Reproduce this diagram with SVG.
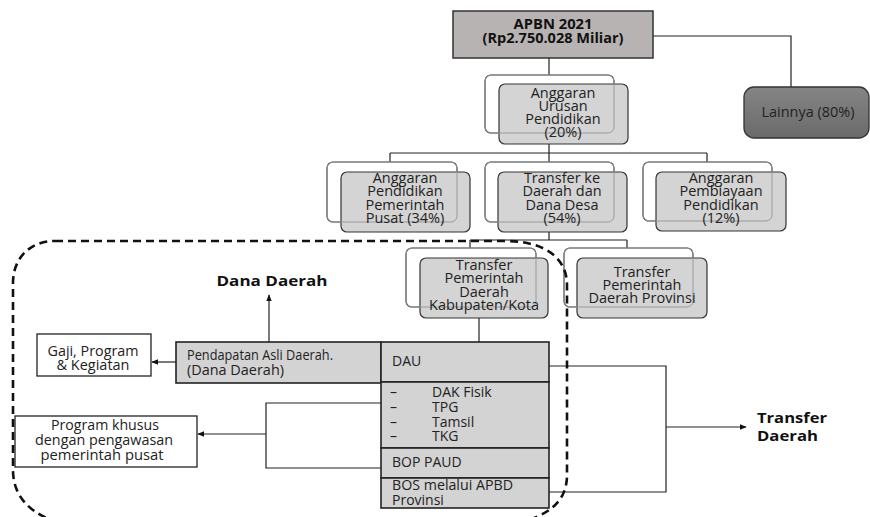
<svg xmlns="http://www.w3.org/2000/svg" width="870" height="517" viewBox="0 0 870 517">
<defs>
<marker id="ah" viewBox="0 0 10 10" refX="9" refY="5" markerWidth="7" markerHeight="7" orient="auto-start-reverse" markerUnits="userSpaceOnUse">
<path d="M0,1 L10,5 L0,9 Z" fill="#111"/>
</marker>
<linearGradient id="gl" x1="0" y1="0" x2="0" y2="1">
<stop offset="0" stop-color="#858585"/>
<stop offset="1" stop-color="#6a6a6a"/>
</linearGradient>
<style>
text{font-family:"Open Sans","Noto Sans","Liberation Sans",sans-serif;font-size:14px;fill:#222}
.c{text-anchor:middle}
.t{font-size:14.5px}
.b{font-weight:bold;fill:#111}
.back{fill:#fff;stroke:#333;stroke-width:1.2}
.front{fill:#d4d4d4;stroke:#333;stroke-width:1.2}
.ghost{fill:none;stroke:#9a9a9a;stroke-width:1}
.cell{fill:#d3d3d3;stroke:#222;stroke-width:1.6}
.plain{fill:#fff;stroke:#222;stroke-width:1.3}
.ln{fill:none;stroke:#222;stroke-width:1.2}
.dash{fill:none;stroke:#111;stroke-width:2.6;stroke-dasharray:8 5}
</style>
</defs>

<g id="connectors">
<path class="ln" d="M653,36 H791 V87"/>
<path class="ln" d="M549,58 V75"/>
<path class="ln" d="M549,140 V153 M390,153 H707 M390,153 V162 M549,153 V162 M707,153 V162"/>
<path class="ln" d="M549,232 V240 M470,240 H627 M470,240 V248 M627,240 V248"/>
<path class="ln" d="M479,318 V347"/>
<path class="ln" d="M269,342 V295" marker-end="url(#ah)"/>
<path class="ln" d="M176,362 H152" marker-end="url(#ah)"/>
<path class="ln" d="M381,403 H266 V468 H381 M266,434 H198" marker-end="url(#ah)"/>
<path class="ln" d="M549,366 H666 V492 H549"/>
<path class="ln" d="M666,427 H746" marker-end="url(#ah)"/>
</g>

<g id="apbn">
<rect x="453" y="11" width="200" height="47" fill="#b8b3b3" stroke="#333" stroke-width="1.5"/>
<text class="c b" x="553" y="29" font-size="14.5" textLength="79" lengthAdjust="spacingAndGlyphs">APBN 2021</text>
<text class="c b" x="553" y="43" font-size="14.5" textLength="141" lengthAdjust="spacingAndGlyphs">(Rp2.750.028 Miliar)</text>
</g>

<g id="lainnya">
<rect x="744" y="87" width="125" height="51" rx="10" fill="url(#gl)" stroke="#333" stroke-width="1.3"/>
<text class="c" x="808" y="117" textLength="93" lengthAdjust="spacingAndGlyphs">Lainnya (80%)</text>
</g>

<g id="urusan">
<rect class="back" x="485" y="75" width="129" height="58" rx="6"/>
<rect class="front" x="499" y="84" width="129" height="60" rx="6"/>
<rect class="ghost" x="485" y="75" width="129" height="58" rx="6"/>
<text class="c t" x="563" y="98">Anggaran</text>
<text class="c t" x="563" y="111">Urusan</text>
<text class="c t" x="563" y="124">Pendidikan</text>
<text class="c t" x="563" y="137">(20%)</text>
</g>

<g id="pusat">
<rect class="back" x="327" y="162" width="130" height="60" rx="6"/>
<rect class="front" x="341" y="172" width="129" height="60" rx="6"/>
<rect class="ghost" x="327" y="162" width="130" height="60" rx="6"/>
<text class="c t" x="405" y="183">Anggaran</text>
<text class="c t" x="405" y="196">Pendidikan</text>
<text class="c t" x="405" y="210">Pemerintah</text>
<text class="c t" x="405" y="223">Pusat (34%)</text>
</g>

<g id="transfer">
<rect class="back" x="485" y="162" width="129" height="60" rx="6"/>
<rect class="front" x="498" y="172" width="129" height="60" rx="6"/>
<rect class="ghost" x="485" y="162" width="129" height="60" rx="6"/>
<text class="c t" x="562" y="183">Transfer ke</text>
<text class="c t" x="562" y="196">Daerah dan</text>
<text class="c t" x="562" y="210">Dana Desa</text>
<text class="c t" x="562" y="223">(54%)</text>
</g>

<g id="pembiayaan">
<rect class="back" x="643" y="162" width="129" height="59" rx="6"/>
<rect class="front" x="656" y="172" width="130" height="59" rx="6"/>
<rect class="ghost" x="643" y="162" width="129" height="59" rx="6"/>
<text class="c t" x="721" y="183">Anggaran</text>
<text class="c t" x="721" y="196">Pembiayaan</text>
<text class="c t" x="721" y="210">Pendidikan</text>
<text class="c t" x="721" y="223">(12%)</text>
</g>

<g id="kabkota">
<rect class="back" x="406" y="248" width="130" height="59" rx="6"/>
<rect class="front" x="420" y="258" width="128" height="60" rx="6"/>
<rect class="ghost" x="406" y="248" width="130" height="59" rx="6"/>
<text class="c t" x="484" y="270">Transfer</text>
<text class="c t" x="484" y="283">Pemerintah</text>
<text class="c t" x="484" y="297">Daerah</text>
<text class="c t" x="484" y="310">Kabupaten/Kota</text>
</g>

<g id="provinsi">
<rect class="back" x="564" y="248" width="129" height="59" rx="6"/>
<rect class="front" x="577" y="258" width="130" height="60" rx="6"/>
<rect class="ghost" x="564" y="248" width="129" height="59" rx="6"/>
<text class="c t" x="642" y="277">Transfer</text>
<text class="c t" x="642" y="290">Pemerintah</text>
<text class="c t" x="642" y="303">Daerah Provinsi</text>
</g>

<g id="dana-daerah-label">
<text class="c b" x="272" y="286" font-size="17" textLength="111" lengthAdjust="spacingAndGlyphs">Dana Daerah</text>
</g>

<g id="gaji">
<rect class="plain" x="37" y="334" width="114" height="42"/>
<text class="c" x="93" y="356" font-size="14.5" textLength="91" lengthAdjust="spacingAndGlyphs">Gaji, Program</text>
<text class="c" x="93" y="370" font-size="14.5" textLength="73" lengthAdjust="spacingAndGlyphs">&amp; Kegiatan</text>
</g>

<g id="pad">
<rect class="cell" x="176" y="342" width="205" height="41"/>
<text x="187" y="360" font-size="13.5" textLength="146" lengthAdjust="spacingAndGlyphs">Pendapatan Asli Daerah.</text>
<text x="187" y="375" font-size="13.5" textLength="97" lengthAdjust="spacingAndGlyphs">(Dana Daerah)</text>
</g>

<g id="dau">
<rect class="cell" x="381" y="342" width="168" height="40"/>
<text x="392" y="366">DAU</text>
</g>

<g id="dak">
<rect class="cell" x="381" y="382" width="168" height="66"/>
<text x="390" y="397">–</text><text x="432" y="397">DAK Fisik</text>
<text x="390" y="412">–</text><text x="432" y="412">TPG</text>
<text x="390" y="427">–</text><text x="432" y="427">Tamsil</text>
<text x="390" y="441">–</text><text x="432" y="441">TKG</text>
</g>

<g id="bop">
<rect class="cell" x="381" y="448" width="168" height="30"/>
<text x="392" y="467">BOP PAUD</text>
</g>

<g id="bos">
<rect class="cell" x="381" y="478" width="168" height="30"/>
<text x="392" y="490" textLength="121" lengthAdjust="spacingAndGlyphs">BOS melalui APBD</text>
<text x="392" y="505">Provinsi</text>
</g>

<g id="program-khusus">
<rect class="plain" x="15" y="416" width="182" height="51"/>
<text class="c" x="105" y="430" font-size="14.5" textLength="108" lengthAdjust="spacingAndGlyphs">Program khusus</text>
<text class="c" x="104" y="445" font-size="14.5" textLength="138" lengthAdjust="spacingAndGlyphs">dengan pengawasan</text>
<text class="c" x="102" y="460" font-size="14.5" textLength="123" lengthAdjust="spacingAndGlyphs">pemerintah pusat</text>
</g>

<g id="transfer-daerah-label">
<text class="b" x="757" y="423" font-size="16.5" textLength="70" lengthAdjust="spacingAndGlyphs">Transfer</text>
<text class="b" x="757" y="441" font-size="16.5" textLength="61" lengthAdjust="spacingAndGlyphs">Daerah</text>
</g>

<g id="region">
<path class="dash" d="M55,241 H505 C545,241 567,258 567,285 V475 C567,502 548,516 515,524 H65 C32,516 13,498 13,470 V283 C13,258 30,241 55,241 Z"/>
</g>
</svg>
